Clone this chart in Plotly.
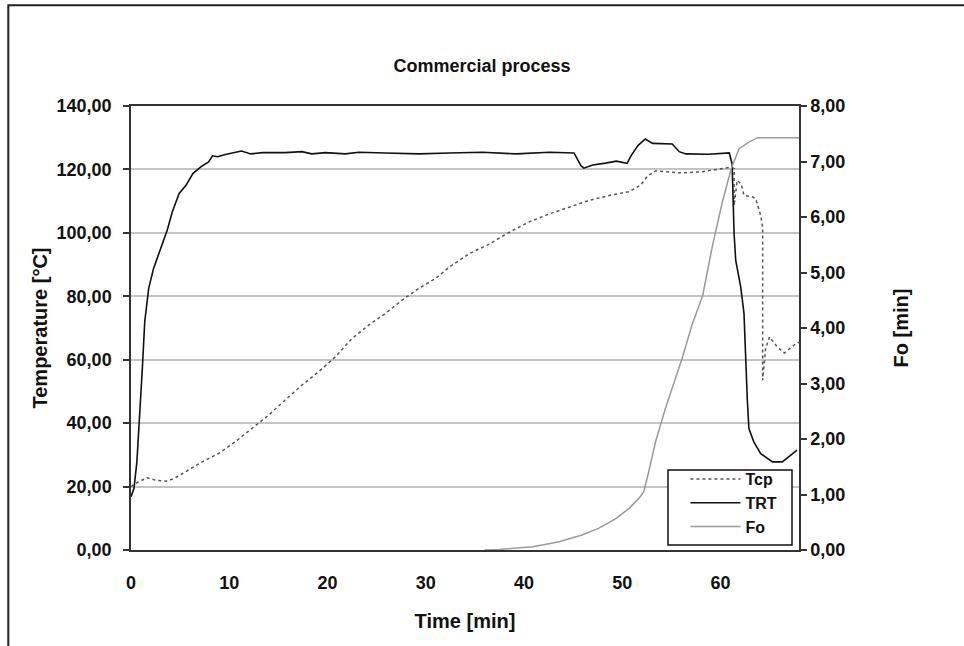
import plotly.graph_objects as go

# ---- data ----
trt_time = [0, 0.3, 0.6, 0.9, 1.15, 1.4, 1.8, 2.3, 2.9, 3.7, 4.2, 4.9, 5.6, 6.3, 7.1, 7.9, 8.3, 8.8,
            9.6, 10.5, 11.25, 12.2, 13.4, 15.7, 17.4, 18.4, 19.8, 21.8, 23.2, 25.9, 29.3, 32.4, 35.8,
            39.2, 42.6, 45.1, 45.8, 46.1, 47.0, 48.3, 49.4, 50.5, 50.9, 51.6, 52.35, 53.1, 55.1, 55.8,
            56.5, 58.8, 60.9, 61.19, 61.39, 61.56, 62.07, 62.4, 62.58, 62.74, 62.9, 63.4, 64.1, 65.3,
            66.3, 67.0, 67.8]
trt_temp = [16.8, 19.4, 27.8, 42.5, 57, 72, 82.5, 88.8, 94, 101, 106.6, 112.4, 115, 118.7, 120.8,
            122.4, 124.3, 124, 124.7, 125.3, 125.8, 124.9, 125.3, 125.3, 125.6, 124.9, 125.3, 124.9,
            125.4, 125.2, 124.9, 125.2, 125.4, 124.9, 125.4, 125.2, 121.2, 120.4, 121.4, 122, 122.6,
            121.9, 124.3, 127.5, 129.6, 128.2, 128, 125.6, 124.9, 124.8, 125.2, 121.8, 99.8, 91.3,
            82.9, 74.6, 57.7, 47.2, 38.3, 34.1, 30.4, 27.8, 27.8, 29.4, 31.5]

tcp_time = [0, 0.64, 1.66, 2.5, 3.7, 4.54, 5.56, 7.25, 8.95, 10.6, 12.3, 14.0, 15.7, 17.4, 19.1,
            20.8, 22.5, 24.2, 25.9, 27.6, 29.3, 31.0, 32.4, 34.4, 36.5, 38.5, 40.5, 42.6, 44.6,
            46.6, 48.7, 50.7, 51.9, 52.6, 53.4, 56.1, 58.2, 60.2, 61.1, 61.4, 61.4, 61.7, 62.1,
            62.4, 63.3, 63.6, 64.1, 64.3, 64.3, 64.6, 65.0, 65.8, 66.5, 67.7, 68]
tcp_temp = [20, 21.3, 22.8, 22, 21.7, 22.8, 24.7, 27.8, 30.5, 34.1, 38.3, 42.5, 47.3, 52, 56.2,
            60.9, 66.7, 70.9, 74.6, 78.8, 82.5, 85.6, 89.2, 93.4, 96.5, 100.2, 103.4, 106, 108.1,
            110.2, 111.8, 113, 115.1, 118, 119.5, 118.9, 119.3, 120.4, 120.7, 120.2, 108.6, 116.5,
            115.5, 111.8, 111.3, 110.7, 105.5, 101.8, 53.5, 63.5, 67.2, 64, 62.1, 65.1, 65.5]

fo_time = [36, 37.5, 40.9, 43.6, 45.9, 47.6, 49.4, 50.7, 51.7, 52.2, 52.7, 53.4, 54.4, 56.1, 57.1,
           58.2, 59.2, 60.2, 61.1, 61.9, 62.9, 63.8, 68]
fo_value = [0, 0.01, 0.06, 0.15, 0.27, 0.39, 0.57, 0.75, 0.93, 1.05, 1.41, 1.95, 2.55, 3.45, 4.05,
            4.59, 5.49, 6.27, 6.87, 7.23, 7.35, 7.43, 7.43]

x_ticks = [0, 10, 20, 30, 40, 50, 60]

FONT = "Liberation Sans, Arial, sans-serif"
TXT = "#111111"
AX = "#333333"

fig = go.Figure()
fig.add_trace(go.Scatter(x=tcp_time, y=tcp_temp, name="Tcp", mode="lines",
                         line=dict(color="#555555", width=1.5, dash="dot")))
fig.add_trace(go.Scatter(x=trt_time, y=trt_temp, name="TRT", mode="lines",
                         line=dict(color="#111111", width=1.6)))
fig.add_trace(go.Scatter(x=fo_time, y=fo_value, name="Fo", mode="lines", yaxis="y2",
                         line=dict(color="#9a9a9a", width=1.5)))

fig.update_layout(
    width=964, height=646,
    margin=dict(l=131, r=165, t=106, b=96),
    paper_bgcolor="white", plot_bgcolor="white",
    separators=",.",
    font=dict(family=FONT, size=18, color=TXT, weight=700),
    title=dict(text="Commercial process", x=0.5, xref="container", xanchor="center",
               y=1 - 66 / 646, yref="container", yanchor="middle",
               font=dict(family=FONT, size=18, color=TXT, weight=700)),
    showlegend=True,
    legend=dict(x=0.83, y=0.198, xanchor="left", yanchor="top",
                bgcolor="rgba(0,0,0,0)", borderwidth=0,
                font=dict(family=FONT, size=16, color=TXT, weight=700),
                tracegroupgap=0, itemwidth=50),
    xaxis=dict(range=[0, 68], tickvals=x_ticks, showgrid=False, zeroline=False,
               showline=True, linecolor=AX, linewidth=1.5, mirror=True,
               ticks="outside", ticklen=16, tickcolor="rgba(0,0,0,0)",
               tickfont=dict(family=FONT, size=18, color=TXT, weight=700),
               title=dict(text="Time [min]", standoff=22,
                          font=dict(family=FONT, size=20, color=TXT, weight=700))),
    yaxis=dict(range=[0, 140], dtick=20, tickformat=".2f", showgrid=True,
               gridcolor="#c4c4c4", gridwidth=1.5, zeroline=False,
               showline=True, linecolor=AX, linewidth=1.5,
               ticks="outside", ticklen=6, tickcolor=AX, tickwidth=1.5,
               ticklabelstandoff=8,
               tickfont=dict(family=FONT, size=18, color=TXT, weight=700),
               title=dict(text="Temperature [°C]", standoff=4,
                          font=dict(family=FONT, size=20, color=TXT, weight=700))),
    yaxis2=dict(range=[0, 8], dtick=1, tickformat=".2f", overlaying="y", side="right",
                showgrid=False, zeroline=False,
                showline=True, linecolor=AX, linewidth=1.5,
                ticks="outside", ticklen=6, tickcolor=AX, tickwidth=1.5,
                tickfont=dict(family=FONT, size=18, color=TXT, weight=700),
                title=dict(text="Fo [min]", standoff=50,
                           font=dict(family=FONT, size=20, color=TXT, weight=700))),
    shapes=[
        dict(type="rect", xref="paper", yref="paper",
             x0=-0.1837, x1=1.35, y0=-0.35, y1=1.2268,
             line=dict(color="#222222", width=2), fillcolor="rgba(0,0,0,0)",
             layer="below"),
        # legend frame
        dict(type="rect", xref="paper", yref="paper",
             x0=(668 - 131) / 668, x1=(792 - 131) / 668,
             y0=(550 - 545) / 444, y1=(550 - 470) / 444,
             line=dict(color="#111111", width=1.5), fillcolor="white",
             layer="above"),
    ],
)

fig.write_html("out.html")
